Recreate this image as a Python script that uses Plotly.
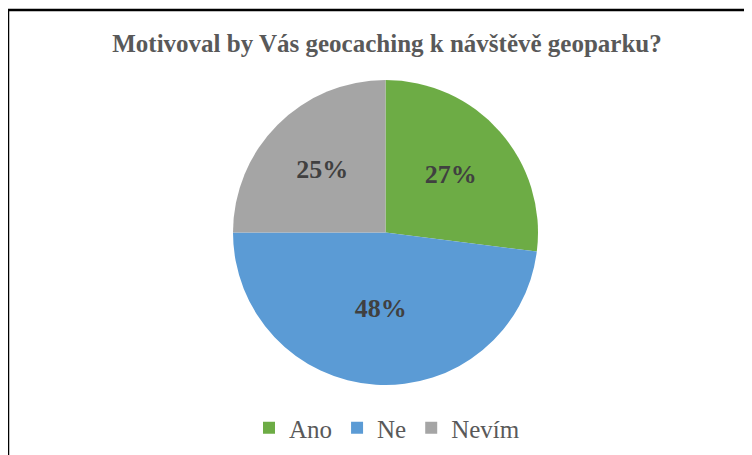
import plotly.graph_objects as go

# Data
labels = ["Ano", "Ne", "Nevím"]
values = [27, 48, 25]
colors = ["#6DAC45", "#5B9BD5", "#A5A5A5"]

W, H = 752, 455
OFF = 8  # page body margin shifts the figure


def px(x):
    return (x - OFF) / W


def py(y):
    return 1 - (y - OFF) / H


SERIF = "Liberation Serif, Times New Roman, serif"

fig = go.Figure()
fig.add_trace(go.Pie(
    labels=labels,
    values=values,
    sort=False,
    direction="clockwise",
    rotation=0,
    marker=dict(colors=colors, line=dict(width=0)),
    texttemplate="%{percent:.0%}",
    textposition="inside",
    insidetextorientation="horizontal",
    textfont=dict(family=SERIF, size=26, color="#404040", weight="bold"),
    domain=dict(x=[px(232), px(539)], y=[py(385), py(80)]),
    hoverinfo="label+percent",
))

# frame around the chart (left and top edges visible)
fig.add_shape(type="line", xref="paper", yref="paper",
              x0=px(8), x1=1.01, y0=py(10), y1=py(10),
              line=dict(color="black", width=2.5))
fig.add_shape(type="line", xref="paper", yref="paper",
              x0=px(8), x1=px(8), y0=-0.01, y1=py(10),
              line=dict(color="black", width=2.5))

fig.update_layout(
    width=W,
    height=H,
    margin=dict(l=0, r=0, t=0, b=0),
    paper_bgcolor="white",
    plot_bgcolor="white",
    title=dict(
        text="<b>Motivoval by Vás geocaching k návštěvě geoparku?</b>",
        x=px(387), xanchor="center",
        y=py(43), yanchor="middle",
        font=dict(family=SERIF, size=25, color="#595959"),
    ),
    legend=dict(
        orientation="h",
        x=px(387), xanchor="center",
        y=py(428), yanchor="middle",
        font=dict(family=SERIF, size=25, color="#595959"),
        itemwidth=30,
        tracegroupgap=0,
    ),
)

fig.write_html("out.html")
